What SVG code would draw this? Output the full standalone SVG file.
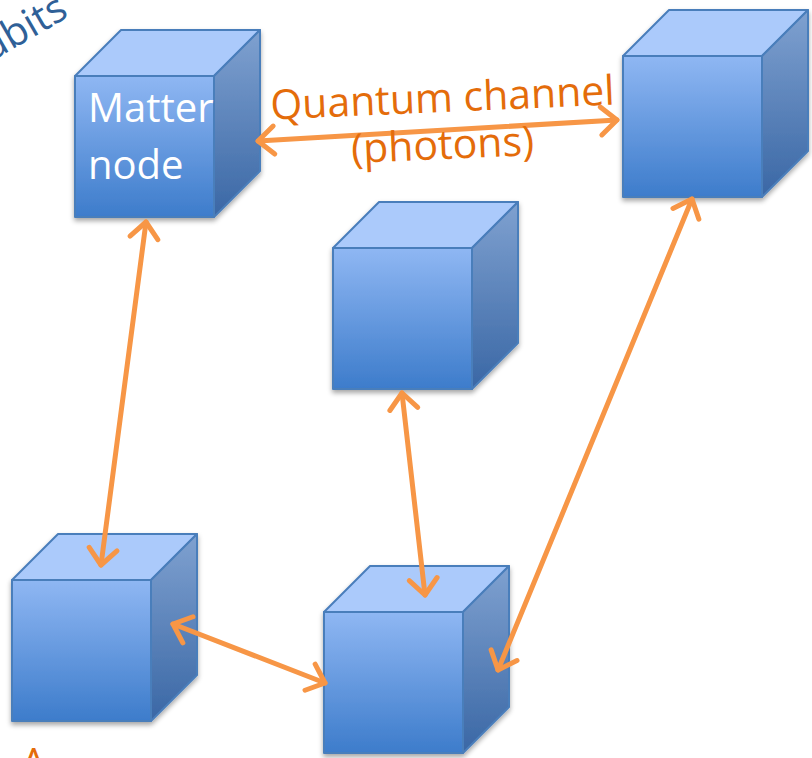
<svg xmlns="http://www.w3.org/2000/svg" xmlns:xlink="http://www.w3.org/1999/xlink" width="812" height="758" viewBox="0 0 812 758">
<style>
.face{stroke:#4a7ebb;stroke-width:2;stroke-linejoin:round}
.conn{stroke:#f79646;stroke-width:5;fill:none;stroke-linecap:round;marker-start:url(#ah);marker-end:url(#ah)}
.lbl{font-family:"Open Sans","Liberation Sans",sans-serif;font-size:40px}
</style>
<defs>
<linearGradient id="gFront" x1="0" y1="0" x2="0" y2="1">
<stop offset="0" stop-color="#8fb7f3"/>
<stop offset="1" stop-color="#3d7ccb"/>
</linearGradient>
<linearGradient id="gSide" x1="0" y1="0" x2="0" y2="1">
<stop offset="0" stop-color="#7fa1d0"/>
<stop offset="1" stop-color="#3a67a5"/>
</linearGradient>
<filter id="sh" x="-20%" y="-20%" width="140%" height="140%">
<feDropShadow dx="0" dy="3" stdDeviation="2.5" flood-color="#000" flood-opacity="0.35"/>
</filter>
<g id="cube">
<polygon class="face" points="0,0 46,-46 185,-46 139,0" fill="#abcafb"/>
<polygon class="face" points="139,0 185,-46 185,95 139,141" fill="url(#gSide)"/>
<rect class="face" x="0" y="0" width="139" height="141" fill="url(#gFront)"/>
</g>
<marker id="ah" markerUnits="userSpaceOnUse" viewBox="-24 -20 28 40" markerWidth="28" markerHeight="40" refX="0" refY="0" orient="auto-start-reverse">
<path d="M-16,-14 L0,0 L-16,14" fill="none" stroke="#f79646" stroke-width="5" stroke-linecap="round" stroke-linejoin="round"/>
</marker>
</defs>
<rect width="812" height="758" fill="#ffffff"/>
<text x="0" y="0" transform="translate(70,16) rotate(-30)" text-anchor="end" font-family="'Open Sans','Liberation Sans',sans-serif" font-size="40" fill="#2f6097">qubits</text>
<g id="node-matter" filter="url(#sh)"><use xlink:href="#cube" x="75" y="76"/></g>
<g id="node-topright" filter="url(#sh)"><use xlink:href="#cube" x="623" y="56"/></g>
<g id="node-middle" filter="url(#sh)"><use xlink:href="#cube" x="333" y="248"/></g>
<g id="node-bottomleft" filter="url(#sh)"><use xlink:href="#cube" x="12" y="580"/></g>
<g id="node-bottom" filter="url(#sh)"><use xlink:href="#cube" x="324" y="612"/></g>
<g id="node-matter-label">
<text class="lbl" x="88" y="122" fill="#ffffff">Matter</text>
<text class="lbl" x="88" y="179" fill="#ffffff">node</text>
</g>
<g id="connectors">
<line class="conn" x1="258" y1="141" x2="617" y2="120"/>
<line class="conn" x1="146" y1="222" x2="101" y2="565"/>
<line class="conn" x1="402" y1="393" x2="425" y2="595"/>
<line class="conn" x1="692" y1="199" x2="498" y2="670"/>
<line class="conn" x1="173" y1="624" x2="325" y2="683"/>
</g>
<g id="channel-label" transform="rotate(-2.5 443 110)" fill="#e46c0a">
<text class="lbl" x="443" y="112" text-anchor="middle" font-size="41" style="font-size:41px">Quantum channel</text>
<text class="lbl" x="441" y="159" text-anchor="middle" style="font-size:41px">(photons)</text>
</g>
<text class="lbl" x="21" y="777" fill="#e46c0a">A</text>
</svg>
